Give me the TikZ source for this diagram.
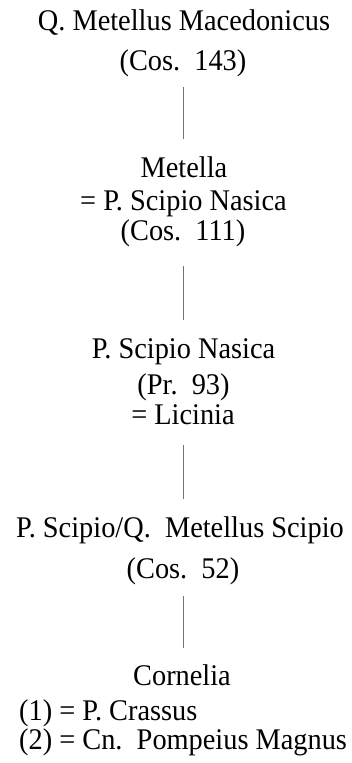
\documentclass[tikz,border=0pt]{standalone}
\usepackage{fontspec}
\setmainfont{Liberation Serif}[FakeStretch=0.945]
\begin{document}
\begin{tikzpicture}[x=1pt,y=-1pt,
  txt/.style={inner sep=0pt, anchor=base, font=\fontsize{30}{36}\selectfont,
              text height=21pt, text depth=6.5pt},
  txtl/.style={txt, anchor=base west, text height=19pt, text depth=5pt},
  link/.style={draw=black!55, line width=0.8pt, shorten >=16.5pt}]
\useasboundingbox[fill=white] (0,0) rectangle (352,763);
% block 1
\node[txt] (n1a) at (184,30) {Q. Metellus Macedonicus};
\node[txt] (n1b) at (183,70) {(Cos.\ \ 143)};
% block 2
\node[txt] (n2a) at (184,177) {Metella};
\node[txt] (n2b) at (183.5,210) {= P. Scipio Nasica};
\node[txt] (n2c) at (183,240) {(Cos.\ \ 111)};
% block 3
\node[txt] (n3a) at (183.5,358) {P. Scipio Nasica};
\node[txt] (n3b) at (183.5,394) {(Pr.\ \ 93)};
\node[txt] (n3c) at (183,424) {= Licinia};
% block 4
\node[txt] (n4a) at (180,537) {P. Scipio/Q.\ \ Metellus Scipio};
\node[txt] (n4b) at (183,578) {(Cos.\ \ 52)};
% block 5
\node[txt] (n5a) at (182,685) {Cornelia};
\node[txtl] (n5b) at (19,720) {(1) = P. Crassus};
\node[txtl] (n5c) at (19,749.5) {(2) = Cn.\ \ Pompeius Magnus};
% connectors
\draw[link, shorten <=10.5pt] (n1b.south) -- (n1b.south |- n2a.north);
\draw[link, shorten <=19.5pt] (n2c.south) -- (n2c.south |- n3a.north);
\draw[link, shorten <=14.5pt] (n3c.south) -- (n3c.south |- n4a.north);
\draw[link, shorten <=11.5pt, shorten >=15.5pt] (n4b.south) -- (n4b.south |- n5a.north);
\end{tikzpicture}
\end{document}
